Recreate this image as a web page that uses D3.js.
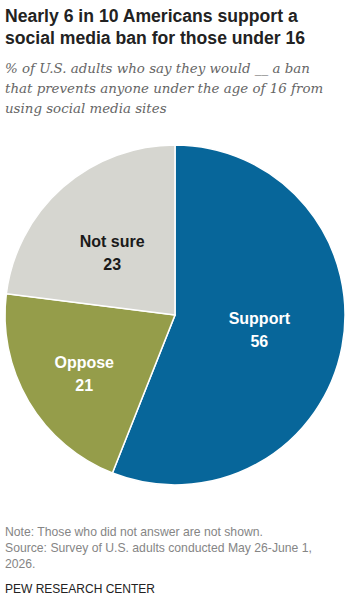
<!DOCTYPE html>
<html><head><meta charset="utf-8">
<script src="https://cdn.jsdelivr.net/npm/d3@7"></script>
<style>
body{margin:0;background:#fff;}
svg{display:block;}
</style></head>
<body>
<svg id="chart" width="359" height="597"></svg>
<script>
const categories = ["Support", "Oppose", "Not sure"];
const values = [56, 21, 23];
const colors = ["#07669a", "#959d4a", "#d6d6d0"];
const labelColors = ["#ffffff", "#ffffff", "#1a1a1a"];
const labelRadius = 95;
const labelShift = [[-9, -3], [-9, 11], [0, 9]];

const svg = d3.select("#chart");

// Title
const title = svg.append("text").attr("font-family", "Liberation Sans, Arial, sans-serif")
  .attr("font-weight", "bold").attr("font-size", 17.6).attr("fill", "#222");
["Nearly 6 in 10 Americans support a", "social media ban for those under 16"].forEach((t, i) =>
  title.append("tspan").attr("x", 5).attr("y", 22 + i * 22).text(t));

// Subtitle
const sub = svg.append("text").attr("font-family", "DejaVu Serif, Georgia, serif")
  .attr("font-style", "italic").attr("font-size", 13.4).attr("fill", "#666");
["% of U.S. adults who say they would __ a ban",
 "that prevents anyone under the age of 16 from",
 "using social media sites"].forEach((t, i) =>
  sub.append("tspan").attr("x", 5).attr("y", 73 + i * 20).text(t));

// Pie
const cx = 175, cy = 315, r = 170;
const g = svg.append("g").attr("transform", `translate(${cx},${cy})`);
const pie = d3.pie().sort(null).value(d => d.value);
const data = categories.map((c, i) => ({ name: c, value: values[i], i }));
const arcs = pie(data);
const arc = d3.arc().innerRadius(0).outerRadius(r);
const labelArc = d3.arc().innerRadius(labelRadius).outerRadius(labelRadius);

g.selectAll("path").data(arcs).join("path")
  .attr("d", arc)
  .attr("fill", d => colors[d.data.i])
  .attr("stroke", "#fff").attr("stroke-width", 1.5);

arcs.forEach(d => {
  const [x0, y0] = labelArc.centroid(d);
  const x = x0 + labelShift[d.data.i][0], y = y0 + labelShift[d.data.i][1];
  const t = g.append("text").attr("text-anchor", "middle")
    .attr("font-family", "Liberation Sans, Arial, sans-serif")
    .attr("font-weight", "bold").attr("font-size", 16)
    .attr("fill", labelColors[d.data.i]);
  t.append("tspan").attr("x", x).attr("y", y - 6).text(d.data.name);
  t.append("tspan").attr("x", x).attr("y", y + 17).text(d.data.value);
});

// Notes
const note = svg.append("text").attr("font-family", "Liberation Sans, Arial, sans-serif")
  .attr("font-size", 12.2).attr("fill", "#858585");
["Note: Those who did not answer are not shown.",
 "Source: Survey of U.S. adults conducted May 26-June 1,",
 "2026."].forEach((t, i) =>
  note.append("tspan").attr("x", 5).attr("y", 536 + i * 16).text(t));

svg.append("text").attr("x", 5).attr("y", 593)
  .attr("font-family", "Liberation Sans, Arial, sans-serif")
  .attr("font-size", 12).attr("fill", "#222").attr("font-weight", "500")
  .text("PEW RESEARCH CENTER");
</script>
</body></html>
